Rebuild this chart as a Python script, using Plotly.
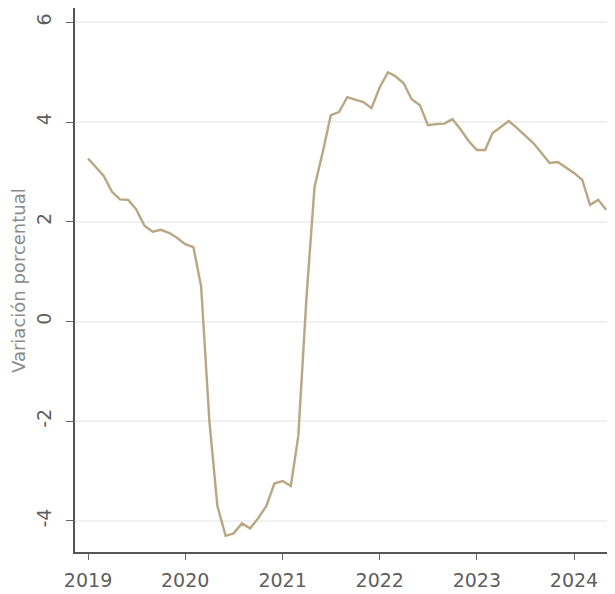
import plotly.graph_objects as go
import pandas as pd

months = pd.date_range("2019-01-01", periods=65, freq="MS")
values = [
    3.27, 3.08, 2.92, 2.60, 2.45, 2.44, 2.25, 1.92, 1.80, 1.84, 1.78, 1.68,
    1.55, 1.49, 0.70, -2.00, -3.70, -4.30, -4.25, -4.05, -4.15, -3.95, -3.70, -3.25,
    -3.20, -3.30, -2.30, 0.50, 2.70, 3.40, 4.14, 4.20, 4.50, 4.45, 4.40, 4.28,
    4.70, 5.00, 4.92, 4.78, 4.46, 4.34, 3.94, 3.96, 3.97, 4.06, 3.85, 3.62,
    3.44, 3.44, 3.78, 3.90, 4.02, 3.88, 3.74, 3.58, 3.38, 3.18, 3.20, 3.10,
    2.98, 2.84, 2.34, 2.44, 2.24,
]
year_ticks = ["2019-01-01", "2020-01-01", "2021-01-01", "2022-01-01", "2023-01-01", "2024-01-01"]
year_labels = ["2019", "2020", "2021", "2022", "2023", "2024"]
y_ticks = [-4, -2, 0, 2, 4, 6]
y_labels = ["-4", "-2", "0", "2", "4", "6"]
y_title = "Variación porcentual"

fig = go.Figure()
fig.add_trace(go.Scatter(
    x=months, y=values, mode="lines",
    line=dict(color="#b9a783", width=2.4),
    showlegend=False, hoverinfo="skip",
))

font_family = "DejaVu Sans, Open Sans, sans-serif"
fig.update_layout(
    width=607, height=586,
    margin=dict(l=67, r=0, t=0, b=42, autoexpand=False),
    paper_bgcolor="white", plot_bgcolor="white",
    font=dict(family=font_family, color="#5e5e5e"),
    xaxis=dict(
        range=["2018-11-13", "2024-06-03"],
        tickvals=year_ticks, ticktext=year_labels,
        ticks="outside", ticklen=6, tickcolor="#666666", tickwidth=1.2,
        showline=True, linecolor="#555555", linewidth=1.5,
        showgrid=False, zeroline=False,
        tickfont=dict(size=19, color="#5e5e5e"),
        ticklabelstandoff=4,
    ),
    yaxis=dict(
        range=[-4.624, 6.289],
        tickvals=y_ticks, ticktext=y_labels,
        ticks="outside", ticklen=7, tickcolor="#666666", tickwidth=1.2,
        tickangle=-90,
        showline=True, linecolor="#555555", linewidth=1.5,
        showgrid=True, gridcolor="#f1f1f1", gridwidth=1.5,
        zeroline=False,
        tickfont=dict(size=19, color="#5e5e5e"),
        ticklabelstandoff=8,
    ),
    annotations=[dict(
        text=y_title, textangle=-90,
        xref="paper", yref="paper", x=-0.1056, y=0.5,
        xanchor="center", yanchor="middle", showarrow=False,
        font=dict(size=18, color="#8a8a8a", family=font_family),
    )],
)

fig.write_html("out.html")
